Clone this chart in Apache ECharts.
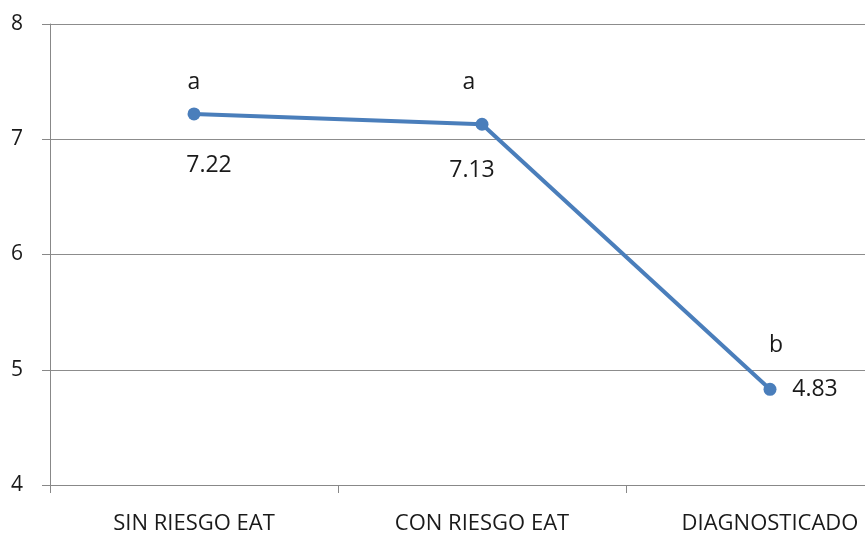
<!DOCTYPE html>
<html>
<head>
<meta charset="utf-8">
<script src="https://cdn.jsdelivr.net/npm/echarts@6/dist/echarts.min.js"></script>
<style>
  html, body { margin: 0; padding: 0; background: #fff; overflow: hidden; }
  #chart { width: 914px; height: 538px; }
</style>
</head>
<body>
<div id="chart"></div>
<script>
// Groups along the x axis
const categories = ['SIN RIESGO EAT', 'CON RIESGO EAT', 'DIAGNOSTICADO'];
// Mean score per group
const values = [7.22, 7.13, 4.83];
// Significance letters shown above each point
const groupLetters = ['a', 'a', 'b'];
// Y axis range
const yMin = 4, yMax = 8, yStep = 1;

const FONT = '"Open Sans", "Liberation Sans", sans-serif';
const BLUE = '#4A7EBB';
const TEXT = '#1a1a1a';

// Label offsets (label centre relative to the point)
const valueLabelOffset = [[15, 52], [-10, 46], [45, 0]];
const letterLabelOffset = [[0, -31], [-13, -42], [6, -44]];

const chart = echarts.init(document.getElementById('chart'));
chart.setOption({
  animation: false,
  backgroundColor: '#fff',
  grid: { left: 50, top: 24, right: 0, height: 461 },
  xAxis: {
    type: 'category',
    data: categories,
    boundaryGap: true,
    axisLine: { lineStyle: { color: '#888', width: 1 } },
    axisTick: { show: true, length: 8, lineStyle: { color: '#888' } },
    axisLabel: { color: TEXT, fontSize: 22, fontFamily: FONT, margin: 28 }
  },
  yAxis: {
    type: 'value',
    min: yMin,
    max: yMax,
    interval: yStep,
    axisLine: { show: true, lineStyle: { color: '#888', width: 1 } },
    axisTick: { show: true, length: 8, lineStyle: { color: '#888' } },
    splitLine: { lineStyle: { color: '#8c8c8c', width: 1 } },
    axisLabel: { color: TEXT, fontSize: 21, fontFamily: FONT, margin: 27 }
  },
  series: [
    {
      type: 'line',
      data: values.map((v, i) => ({
        value: v,
        label: { show: true, position: 'inside', offset: valueLabelOffset[i] }
      })),
      symbol: 'circle',
      symbolSize: 13,
      lineStyle: { color: BLUE, width: 4 },
      itemStyle: { color: BLUE },
      label: {
        show: true,
        color: TEXT,
        fontSize: 23,
        fontFamily: FONT,
        formatter: p => p.value.toFixed(2)
      },
      z: 3
    },
    {
      // Invisible markers that only carry the letter labels
      type: 'scatter',
      data: values.map((v, i) => ({
        value: v,
        label: { show: true, position: 'inside', offset: letterLabelOffset[i] }
      })),
      symbol: 'circle',
      symbolSize: 2,
      itemStyle: { color: 'rgba(0,0,0,0)', opacity: 1 },
      silent: true,
      label: {
        show: true,
        color: TEXT,
        fontSize: 23,
        fontFamily: FONT,
        formatter: p => groupLetters[p.dataIndex]
      },
      z: 2
    }
  ]
});
</script>
</body>
</html>
